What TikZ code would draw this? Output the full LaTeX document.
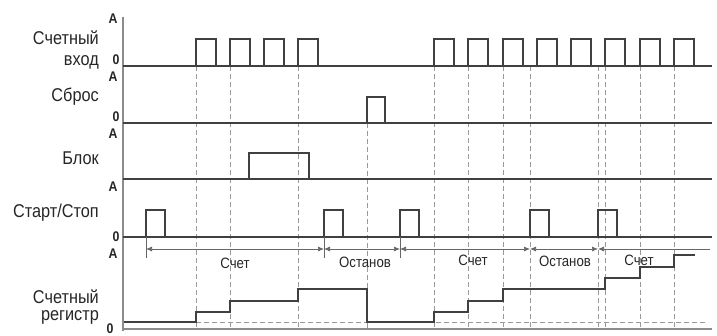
\documentclass[tikz,border=0pt]{standalone}
\usepackage{fontspec}
\setmainfont{Liberation Sans}[FakeStretch=0.88]
\usetikzlibrary{arrows, arrows.meta}
\tikzstyle{wave}=[draw=black!75, line width=1.2pt]
\tikzstyle{guide}=[draw=black!40, dash pattern=on 5pt off 3pt, line width=0.8pt]
\tikzstyle{axisline}=[draw=black!45, line width=1.8pt]
\tikzstyle{spanline}=[draw=black!60, line width=0.7pt]

\begin{document}
\begin{tikzpicture}[x=1pt, y=-1pt, >={Latex[length=6pt, width=5pt]},
        signame/.style={anchor=base east, inner sep=0pt, text=black!85, font=\fontsize{18.5}{18.5}\selectfont},
        lvlmark/.style={inner sep=0pt, text=black!85, font=\bfseries\fontsize{14}{14}\selectfont},
        phase/.style={inner sep=0pt, text=black!85, font=\fontsize{15}{15}\selectfont}
    ]
        \useasboundingbox (0,0) rectangle (717,336);

        % signal names
        \node (cntin1) [signame] at (99,45) {Счетный};
        \node (cntin2) [signame] at (99,66) {вход};
        \node (reset) [signame] at (99,102) {Сброс};
        \node (block) [signame] at (99,165) {Блок};
        \node (startstop) [signame] at (99,218) {Старт/Стоп};
        \node (reg1) [signame] at (99,304) {Счетный};
        \node (reg2) [signame] at (99,321) {регистр};

        % levels
        \node (a1) [lvlmark] at (113,19) {A};
        \node (z1) [lvlmark] at (116,60) {0};
        \node (a2) [lvlmark] at (113,77) {A};
        \node (z2) [lvlmark] at (116,117) {0};
        \node (a3) [lvlmark] at (113,134) {A};
        \node (a4) [lvlmark] at (113,187) {A};
        \node (z4) [lvlmark] at (116,237) {0};
        \node (a5) [lvlmark] at (113,254) {A};
        \node (z5) [lvlmark] at (110,329) {0};

        % guides
        \foreach \x in {196,230,298,434,468,503,530,598,605,640,674}
            \draw [guide] (\x,66) -- (\x,329);
        \draw [guide] (367,123) -- (367,329);
        \draw [guide] (196,322) -- (708,322);

        % axes
        \draw [axisline] (123,17) -- (123,331);
        \draw [axisline] (123,329) -- (712,329);

        % count input
        \draw [wave] (123,66) -- (712,66);
        \foreach \x in {196,230,264,298,434,468,503,537,571,605,640,674}
            \draw [wave] (\x,66) -- (\x,39) -- (\x+20,39) -- (\x+20,66);

        % reset
        \draw [wave] (123,123) -- (712,123);
        \draw [wave] (367,123) -- (367,97) -- (385,97) -- (385,123);

        % block
        \draw [wave] (123,179) -- (712,179);
        \draw [wave] (249,179) -- (249,153) -- (309,153) -- (309,179);

        % start/stop
        \draw [wave] (123,237) -- (712,237);
        \foreach \x in {146,324,400,530,598}
            \draw [wave] (\x,237) -- (\x,210) -- (\x+19,210) -- (\x+19,237);
        \foreach \x in {146,324,400}
            \draw [spanline] (\x,237) -- (\x,258);

        % phases
        \coordinate (t0) at (146,249);
        \coordinate (t1) at (324,249);
        \coordinate (t2) at (400,249);
        \coordinate (t3) at (530,249);
        \coordinate (t4) at (598,249);
        \coordinate (tend) at (710,249);
        \draw [spanline, <->] (t0) -- (t1);
        \draw [spanline, <->] (t1) -- (t2);
        \draw [spanline, <->] (t2) -- (t3);
        \draw [spanline, <->] (t3) -- (t4);
        \draw [spanline, <-] (t4) -- (tend);
        \node (run1) [phase] at (235,263) {Счет};
        \node (stop1) [phase] at (365,262) {Останов};
        \node (run2) [phase] at (473,260) {Счет};
        \node (stop2) [phase] at (565,261) {Останов};
        \node (run3) [phase] at (639,260) {Счет};

        % counter register
        \draw [wave] (124,322) -- (196,322) -- (196,312) -- (230,312) -- (230,301) -- (298,301)
            -- (298,289) -- (367,289) -- (367,322) -- (434,322) -- (434,312) -- (468,312)
            -- (468,301) -- (503,301) -- (503,289) -- (605,289) -- (605,278) -- (640,278)
            -- (640,267) -- (674,267) -- (674,255) -- (695,255);
    \end{tikzpicture}
\end{document}
